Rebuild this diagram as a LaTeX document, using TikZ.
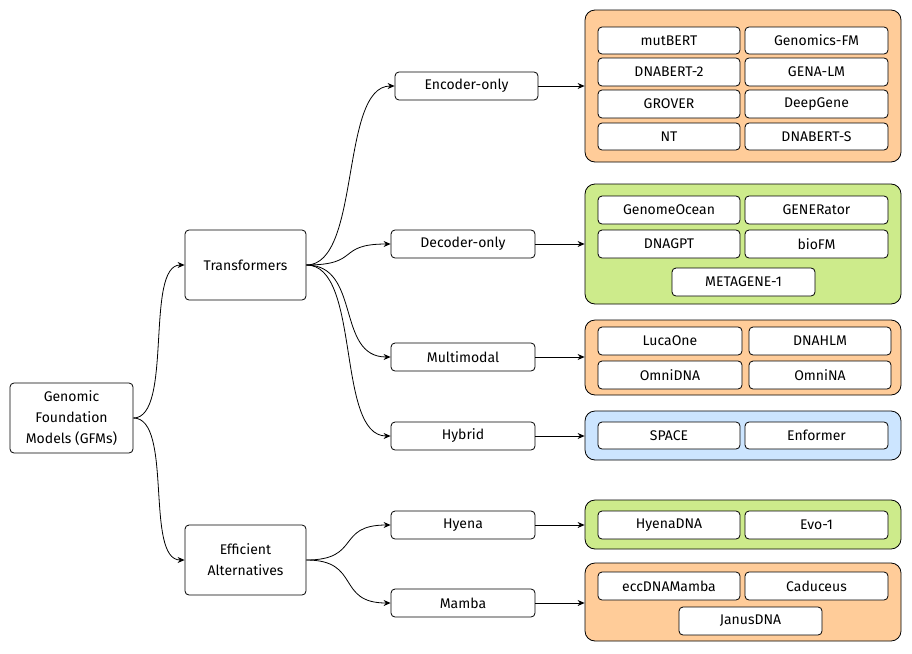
\documentclass[tikz,border=0pt]{standalone}
\usepackage{fontspec}
\setmainfont{Fira Sans}
\usetikzlibrary{arrows.meta}
\definecolor{org}{HTML}{FFCC99}
\definecolor{grn}{HTML}{CDEB8B}
\definecolor{blu}{HTML}{CCE5FF}
\tikzset{
 bx/.style={draw,thick,rounded corners=4pt,fill=white,font=\fontsize{14}{21}\selectfont,align=center,inner sep=0pt},
 grp/.style={draw,thick,rounded corners=10pt,inner sep=0pt},
 ar/.style={thick,-{Stealth[length=7pt,width=6pt]}}
}
\newcommand{\bxat}[6]{\node[bx,minimum width=#4-#2,minimum height=#5-#3] (#1) at ({(#2+#4)/2},{(#3+#5)/2}) {#6};}
\newcommand{\grpat}[6]{\node[grp,fill=#6,minimum width=#4-#2,minimum height=#5-#3] (#1) at ({(#2+#4)/2},{(#3+#5)/2}) {};}
\begin{document}
\begin{tikzpicture}[x=1pt,y=-1pt]
\useasboundingbox (0,0) rectangle (912,653);
\bxat{root}{10}{383}{133}{453}{Genomic\\Foundation\\Models (GFMs)}
\bxat{tr}{185}{230}{306}{300}{Transformers}
\bxat{ef}{185}{525}{306}{595}{Efficient\\Alternatives}
\bxat{enc}{395}{72}{538}{100}{Encoder-only}
\bxat{dec}{391}{230}{535}{258}{Decoder-only}
\bxat{mm}{391}{343}{535}{371}{Multimodal}
\bxat{hyb}{391}{422}{535}{450}{Hybrid}
\bxat{hy}{391}{511}{535}{539}{Hyena}
\bxat{ma}{391}{589}{535}{617}{Mamba}
\grpat{g1}{585}{10}{901}{162}{org}
\grpat{g2}{585}{184}{901}{304}{grn}
\grpat{g3}{585}{320}{901}{395}{org}
\grpat{g4}{585}{411}{901}{460}{blu}
\grpat{g5}{585}{500}{901}{549}{grn}
\grpat{g6}{585}{563}{901}{641}{org}
\bxat{a1}{598}{27}{740}{54}{mutBERT}
\bxat{a2}{745}{27}{888}{54}{Genomics-FM}
\bxat{a3}{598}{58}{740}{86}{DNABERT-2}
\bxat{a4}{745}{58}{888}{86}{GENA-LM}
\bxat{a5}{598}{90}{740}{118}{GROVER}
\bxat{a6}{745}{90}{888}{118}{DeepGene}
\bxat{a7}{598}{123}{740}{150}{NT}
\bxat{a8}{745}{123}{888}{150}{DNABERT-S}
\bxat{b1}{598}{196}{740}{224}{GenomeOcean}
\bxat{b2}{745}{196}{888}{224}{GENERator}
\bxat{b3}{598}{230}{740}{258}{DNAGPT}
\bxat{b4}{745}{230}{888}{258}{bioFM}
\bxat{b5}{672}{268}{815}{296}{METAGENE-1}
\bxat{c1}{598}{327}{742}{355}{LucaOne}
\bxat{c2}{749}{327}{891}{355}{DNAHLM}
\bxat{c3}{598}{361}{742}{389}{OmniDNA}
\bxat{c4}{749}{361}{891}{389}{OmniNA}
\bxat{d1}{598}{422}{740}{449}{SPACE}
\bxat{d2}{745}{422}{888}{449}{Enformer}
\bxat{e1}{598}{511}{740}{539}{HyenaDNA}
\bxat{e2}{745}{511}{888}{539}{Evo-1}
\bxat{f1}{598}{572}{740}{600}{eccDNAMamba}
\bxat{f2}{745}{572}{888}{600}{Caduceus}
\bxat{f3}{679}{607}{822}{635}{JanusDNA}
\foreach \s/\t in {root/tr,root/ef}
 \draw[ar] (\s.east) .. controls +(40,0) and +(-40,0) .. (\t.west);
\foreach \t in {enc,dec,mm,hyb}
 \draw[ar] (tr.east) .. controls +(55,0) and +(-55,0) .. (\t.west);
\foreach \t in {hy,ma}
 \draw[ar] (ef.east) .. controls +(55,0) and +(-55,0) .. (\t.west);
\foreach \s/\t in {enc/g1,dec/g2,mm/g3,hyb/g4,hy/g5,ma/g6}
 \draw[ar] (\s.east) -- (\s.east -| \t.west);
\end{tikzpicture}
\end{document}
